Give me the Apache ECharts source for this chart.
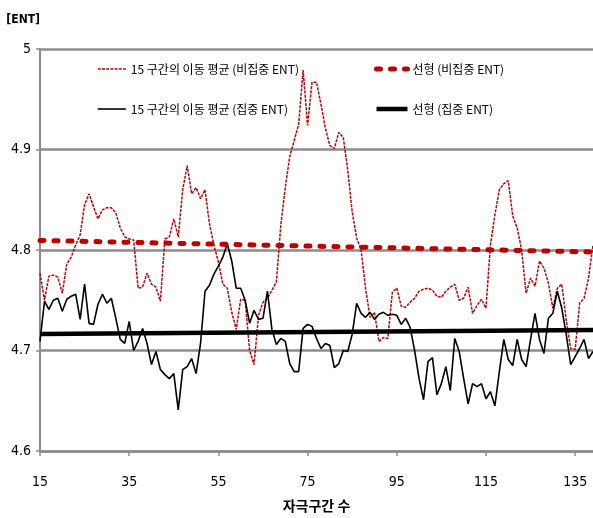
<!DOCTYPE html>
<html>
<head>
<meta charset="utf-8">
<script src="https://cdn.jsdelivr.net/npm/echarts@6/dist/echarts.min.js"></script>
<style>
  html, body { margin: 0; padding: 0; background: #ffffff; }
  #chart { width: 593px; height: 518px; }
</style>
</head>
<body>
<div id="chart"></div>
<script>
// Stimulus-interval axis range and ticks
const FIRST_X = 15;
const LAST_X = 139;
const xTicks = [15, 35, 55, 75, 95, 115, 135];
const yTicks = [4.6, 4.7, 4.8, 4.9, 5];

const seriesNames = [
  '15 구간의 이동 평균 (비집중 ENT)',
  '15 구간의 이동 평균 (집중 ENT)',
  '선형 (비집중 ENT)',
  '선형 (집중 ENT)'
];

// 15-interval moving average, non-focused ENT (x = 15 .. 139)
const movingAvgNonFocus = [
  4.777, 4.750, 4.774, 4.775, 4.773, 4.757, 4.786, 4.793, 4.805, 4.815,
  4.845, 4.856, 4.843, 4.831, 4.840, 4.842, 4.842, 4.837, 4.822, 4.813,
  4.811, 4.810, 4.762, 4.763, 4.777, 4.766, 4.763, 4.749, 4.811, 4.813,
  4.831, 4.813, 4.860, 4.884, 4.856, 4.862, 4.851, 4.860, 4.826, 4.805,
  4.788, 4.766, 4.762, 4.738, 4.721, 4.751, 4.750, 4.700, 4.686, 4.735,
  4.748, 4.752, 4.760, 4.768, 4.825, 4.862, 4.893, 4.909, 4.925, 4.979,
  4.924, 4.967, 4.967, 4.945, 4.921, 4.904, 4.901, 4.917, 4.912, 4.880,
  4.838, 4.812, 4.800, 4.762, 4.733, 4.738, 4.709, 4.713, 4.712, 4.758,
  4.762, 4.744, 4.743, 4.748, 4.752, 4.759, 4.761, 4.762, 4.760, 4.754,
  4.753, 4.759, 4.763, 4.766, 4.750, 4.752, 4.763, 4.737, 4.745, 4.751,
  4.742, 4.805, 4.835, 4.860, 4.866, 4.869, 4.834, 4.822, 4.800, 4.757,
  4.772, 4.764, 4.789, 4.782, 4.767, 4.742, 4.762, 4.766, 4.730, 4.702,
  4.701, 4.747, 4.752, 4.772, 4.805
];

// 15-interval moving average, focused ENT (x = 15 .. 139)
const movingAvgFocus = [
  4.709, 4.749, 4.741, 4.750, 4.752, 4.739, 4.751, 4.754, 4.756, 4.731,
  4.766, 4.727, 4.726, 4.746, 4.756, 4.747, 4.752, 4.732, 4.711, 4.707,
  4.729, 4.700, 4.709, 4.722, 4.707, 4.686, 4.699, 4.681, 4.676, 4.672,
  4.677, 4.641, 4.681, 4.684, 4.692, 4.677, 4.707, 4.759, 4.765, 4.776,
  4.784, 4.793, 4.806, 4.789, 4.762, 4.762, 4.750, 4.727, 4.740, 4.731,
  4.732, 4.759, 4.721, 4.706, 4.712, 4.709, 4.687, 4.679, 4.679, 4.722,
  4.726, 4.724, 4.712, 4.702, 4.707, 4.705, 4.683, 4.687, 4.700, 4.699,
  4.716, 4.747, 4.737, 4.733, 4.738, 4.731, 4.736, 4.738, 4.735, 4.736,
  4.735, 4.726, 4.732, 4.723, 4.700, 4.672, 4.651, 4.689, 4.693, 4.656,
  4.667, 4.684, 4.660, 4.712, 4.699, 4.672, 4.647, 4.667, 4.664, 4.667,
  4.652, 4.659, 4.645, 4.679, 4.711, 4.691, 4.685, 4.711, 4.691, 4.684,
  4.711, 4.737, 4.711, 4.697, 4.732, 4.737, 4.759, 4.742, 4.716, 4.686,
  4.694, 4.702, 4.711, 4.692, 4.699
];

// Linear trend end values at FIRST_X and LAST_X
const linearNonFocus = [4.8095, 4.798];
const linearFocus = [4.7165, 4.7205];

const RED = '#C00000';
const GRID_GRAY = '#8c8c8c';
const CLEAR = 'rgba(0,0,0,0)';
const NUM_FONT = '"Liberation Sans Narrow", "DejaVu Sans Condensed", "Noto Sans CJK KR", sans-serif';
const KR_FONT = '"Noto Sans CJK KR", "Liberation Sans Narrow", sans-serif';

function toPairs(values) {
  return values.map((v, i) => [FIRST_X + i, v]);
}
function trendPairs(ends) {
  return [[FIRST_X, ends[0]], [LAST_X, ends[1]]];
}

const chart = echarts.init(document.getElementById('chart'), null, { renderer: 'canvas' });

const legendText = { fontSize: 12, fontFamily: KR_FONT, color: '#000' };
// Legend samples keep each series' own stroke width and dash pattern
const legendLine = { width: 'inherit', type: 'inherit', cap: 'inherit' };

chart.setOption({
  animation: false,
  backgroundColor: '#ffffff',
  grid: { left: 40, right: 0, top: 49, bottom: 60, containLabel: false },
  legend: [
    {
      data: [seriesNames[0], seriesNames[1]],
      left: 97, top: 63, orient: 'vertical', padding: 0,
      itemWidth: 28, itemHeight: 14, itemGap: 28,
      lineStyle: legendLine,
      textStyle: legendText
    },
    {
      data: [seriesNames[2], seriesNames[3]],
      left: 374, top: 63, orient: 'vertical', padding: 0,
      itemWidth: 31, itemHeight: 14, itemGap: 28,
      lineStyle: legendLine,
      textStyle: legendText
    }
  ],
  xAxis: {
    type: 'value',
    min: FIRST_X, max: LAST_X, interval: xTicks[1] - xTicks[0],
    name: '자극구간 수',
    nameLocation: 'middle', nameGap: 48,
    nameTextStyle: { fontSize: 14, fontWeight: 'bold', fontFamily: KR_FONT, color: '#000' },
    axisLine: { show: true, lineStyle: { color: GRID_GRAY, width: 2.5 } },
    axisTick: { show: true, length: 5, lineStyle: { color: GRID_GRAY, width: 1.5 } },
    axisLabel: {
      showMaxLabel: false, margin: 24,
      fontSize: 14, fontFamily: NUM_FONT, color: '#000'
    },
    splitLine: { show: false }
  },
  yAxis: {
    type: 'value',
    min: yTicks[0], max: yTicks[yTicks.length - 1], interval: 0.1,
    name: '[ENT]',
    nameLocation: 'end', nameGap: 29,
    nameTextStyle: {
      fontSize: 12, fontWeight: 'bold', fontFamily: NUM_FONT, color: '#000',
      align: 'right', verticalAlign: 'middle'
    },
    axisLine: { show: true, lineStyle: { color: GRID_GRAY, width: 2 } },
    axisTick: { show: true, length: 4, lineStyle: { color: GRID_GRAY, width: 1.5 } },
    axisLabel: {
      margin: 9, fontSize: 14, fontFamily: NUM_FONT, color: '#000',
      formatter: v => String(Math.round(v * 10) / 10)
    },
    splitLine: { show: true, lineStyle: { color: GRID_GRAY, width: 2.5 } }
  },
  series: [
    {
      name: seriesNames[0], type: 'line', symbol: 'none', z: 3,
      data: toPairs(movingAvgNonFocus),
      lineStyle: { color: RED, width: 1.5, type: [3, 1.2] },
      itemStyle: { color: CLEAR, borderWidth: 0 }
    },
    {
      name: seriesNames[1], type: 'line', symbol: 'none', z: 4,
      data: toPairs(movingAvgFocus),
      lineStyle: { color: '#000', width: 1.6, type: 'solid' },
      itemStyle: { color: CLEAR, borderWidth: 0 }
    },
    {
      name: seriesNames[2], type: 'line', symbol: 'none', z: 5,
      data: trendPairs(linearNonFocus),
      lineStyle: { color: RED, width: 5, type: [4, 10], cap: 'round' },
      itemStyle: { color: CLEAR, borderWidth: 0 }
    },
    {
      name: seriesNames[3], type: 'line', symbol: 'none', z: 5,
      data: trendPairs(linearFocus),
      lineStyle: { color: '#000', width: 4.5, type: 'solid' },
      itemStyle: { color: CLEAR, borderWidth: 0 }
    }
  ]
});
</script>
</body>
</html>
